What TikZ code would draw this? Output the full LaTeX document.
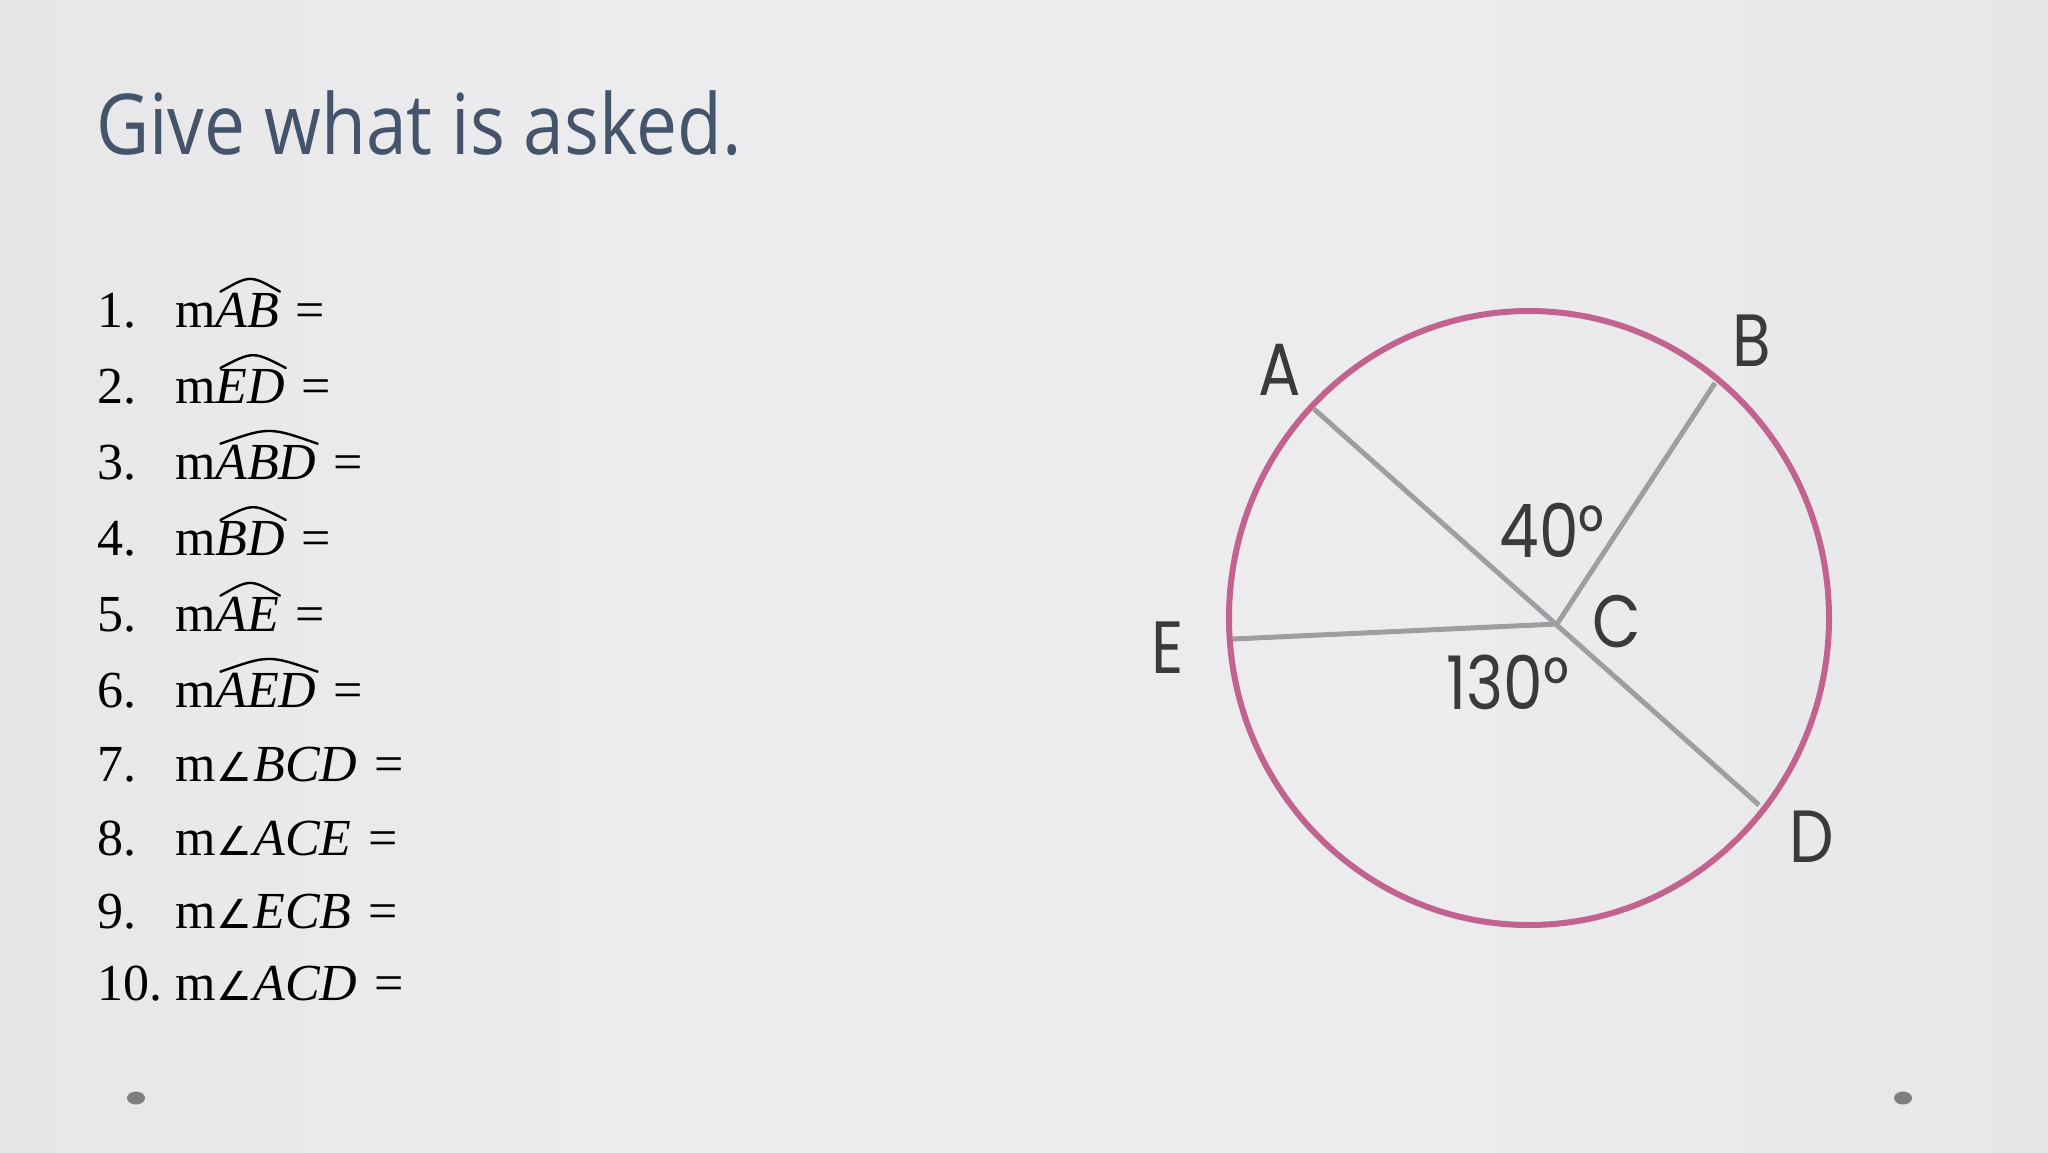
\documentclass[tikz,border=0pt]{standalone}
\usepackage{fontspec}
\setmainfont{Liberation Serif}
\newfontfamily\titlefont[FakeStretch=0.87]{Open Sans}
\newfontfamily\hand[FakeStretch=0.85]{Poppins}
\newfontfamily\angfont{DejaVu Sans}
\definecolor{bgE}{HTML}{CCCCCE}
\definecolor{bgF}{HTML}{DADADC}
\definecolor{bgG}{HTML}{E6E5E8}
\definecolor{bgH}{HTML}{ECEBEE}
\definecolor{titlec}{HTML}{44546A}
\definecolor{circc}{HTML}{C2628F}
\definecolor{spokec}{HTML}{A09DA2}
\definecolor{handc}{HTML}{3A3A3C}
\definecolor{dotc}{HTML}{7F7F7F}
\pgfdeclarehorizontalshading{bgh}{100bp}{color(0bp)=(bgE); color(7bp)=(bgF); color(22bp)=(bgG); color(40bp)=(bgH); color(60bp)=(bgH); color(78bp)=(bgG); color(93bp)=(bgF); color(100bp)=(bgE)}
\begin{document}
\begin{tikzpicture}[x=1pt,y=-1pt,
  item/.style={anchor=base west, inner sep=0pt, outer sep=0pt, font=\fontsize{52}{60}\selectfont, text=black},
  arcline/.style={draw=black, line width=2.4pt, line cap=round},
  circ/.style={draw=circc, line width=6pt},
  spoke/.style={draw=spokec, line width=5pt},
  lbl/.style={inner sep=0pt, text=handc, font=\hand\fontsize{74}{80}\selectfont},
  dotmark/.style={fill=dotc, draw=none}]
\useasboundingbox (0,0) rectangle (2048,1152);
\shade[shading=bgh] (0,0) rectangle (2048,1152);

% title
\node[anchor=base west, inner sep=0pt, text=titlec, font=\titlefont\fontsize{84}{90}\selectfont] (title) at (96,154) {Give what is asked.};

% list
\newcommand{\arcitem}[3]{%
  \node[item] (n#1) at (97,#2) {#1.};
  \node[item] (m#1) at (175,#2) {m};
  \node[item] (w#1) at (m#1.base east) {\textit{#3}};
  \node[item] (q#1) at ([xshift=17pt]w#1.base east) {=};
  \draw[arcline] ([shift={(5pt,1pt)}]w#1.north west) .. controls ([shift={(3pt,18pt)}]w#1.north) .. ([shift={(1pt,1pt)}]w#1.north east);
}
\newcommand{\angitem}[3]{%
  \node[item] (n#1) at (97,#2) {#1.};
  \node[item] (m#1) at (175,#2) {m};
  \node[item] (g#1) at ([xshift=1pt]m#1.base east) {\angfont\fontsize{40}{44}\selectfont ∠};
  \node[item] (w#1) at ([xshift=1pt]g#1.base east) {\textit{#3}};
  \node[item] (q#1) at ([xshift=17pt]w#1.base east) {=};
}
\arcitem{1}{327}{AB}
\arcitem{2}{403}{ED}
\arcitem{3}{479}{ABD}
\arcitem{4}{555}{BD}
\arcitem{5}{631}{AE}
\arcitem{6}{707}{AED}
\angitem{7}{781}{BCD}
\angitem{8}{855}{ACE}
\angitem{9}{928}{ECB}
\angitem{10}{1000}{ACD}

% circle diagram
\coordinate (O) at (1529,618);
\coordinate (A) at (1314,409);
\coordinate (B) at (1715,383);
\coordinate (C) at (1557,624);
\coordinate (D) at (1759,805);
\coordinate (E) at (1233,639);
\draw[spoke] (A) -- (D);
\draw[spoke] (B) -- (C);
\draw[spoke] (E) -- (C);
\draw[circ] (O) ellipse [x radius=300, y radius=307];

\node[lbl] (lA) at (1280,370) {A};
\node[lbl] (lB) at (1752,341) {B};
\node[lbl] (lC) at (1617,622) {C};
\node[lbl] (lD) at (1812,837) {D};
\node[lbl] (lE) at (1168,648) {E};
\node[lbl] (l40) at (1552,530) {40°};
\node[lbl] (l130) at (1508,682) {130°};

% footer dots
\fill[dotmark] (136,1098) ellipse [x radius=9, y radius=6.5];
\fill[dotmark] (1903,1098) ellipse [x radius=9, y radius=6.5];
\end{tikzpicture}
\end{document}
